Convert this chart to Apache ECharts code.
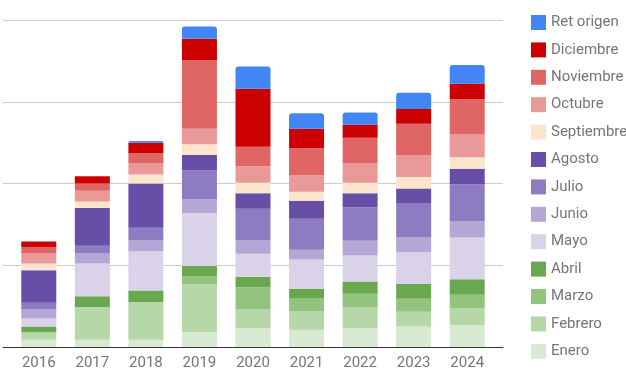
<!DOCTYPE html>
<html>
<head>
<meta charset="utf-8">
<script src="https://cdn.jsdelivr.net/npm/echarts@6/dist/echarts.min.js"></script>
<style>
  html, body { margin: 0; padding: 0; background: #fff; }
  #chart { width: 626px; height: 378px; }
</style>
</head>
<body>
<div id="chart"></div>
<script>
// años (eje x)
const years = ['2016', '2017', '2018', '2019', '2020', '2021', '2022', '2023', '2024']

// una serie por mes, de abajo hacia arriba
const enero      = [9, 9, 9, 18, 23, 21, 23, 25, 27]
const febrero    = [9, 40, 46, 59, 23, 23, 26, 18, 20]
const marzo      = [0, 0, 0, 10, 27, 16, 16, 16, 17]
const abril      = [7, 13, 14, 12, 13, 11, 15, 18, 19]
const mayo       = [10, 40, 48, 65, 28, 36, 32, 39, 51]
const junio      = [11, 13, 14, 17, 17, 12, 18, 18, 20]
const julio      = [8, 9, 15, 35, 38, 38, 41, 42, 45]
const agosto     = [40, 46, 54, 19, 19, 22, 17, 18, 19]
const septiembre = [8, 8, 11, 13, 13, 11, 13, 14, 14]
const octubre    = [13, 13, 14, 19, 20, 20, 24, 27, 28]
const noviembre  = [7, 9, 12, 84, 24, 33, 31, 38, 43]
const diciembre  = [7, 9, 13, 26, 71, 24, 16, 18, 19]
const retOrigen  = [0, 0, 2, 15, 27, 19, 15, 20, 23]

const yTicks = [0, 100, 200, 300, 400]

const seriesDefs = [
  ['Enero', enero, '#d9ead3'],
  ['Febrero', febrero, '#b6d7a8'],
  ['Marzo', marzo, '#93c47d'],
  ['Abril', abril, '#6aa84f'],
  ['Mayo', mayo, '#d9d2e9'],
  ['Junio', junio, '#b4a7d6'],
  ['Julio', julio, '#8e7cc3'],
  ['Agosto', agosto, '#674ea7'],
  ['Septiembre', septiembre, '#fce5cd'],
  ['Octubre', octubre, '#ea9999'],
  ['Noviembre', noviembre, '#e06666'],
  ['Diciembre', diciembre, '#cc0000'],
  ['Ret origen', retOrigen, '#4285f4'],
]

const myChart = echarts.init(document.getElementById('chart'))

const series = seriesDefs.map(function (d) {
  return {
    name: d[0],
    type: 'bar',
    stack: 'total',
    data: d[1],
    barWidth: 35,
    xAxisIndex: 0,
    yAxisIndex: 0,
    itemStyle: {
      color: d[2],
      borderRadius: d[0] === 'Ret origen' ? [3, 3, 0, 0] : 0,
    },
  }
})

const option = {
  animation: false,
  textStyle: { fontFamily: 'Roboto' },
  legend: {
    orient: 'vertical',
    left: 526,
    top: 10,
    itemWidth: 15,
    itemHeight: 15,
    itemGap: 12.4,
    icon: 'rect',
    data: seriesDefs.map(function (d) { return d[0] }).reverse(),
    textStyle: { color: '#757575', fontSize: 15, fontFamily: 'Roboto' },
  },
  grid: [
    { left: 12, right: 132, top: 20, bottom: 31 },
    // solo para las líneas de la cuadrícula, más anchas que las barras
    { left: 3, right: 123, top: 20, bottom: 31 },
  ],
  xAxis: [
    {
      type: 'category',
      gridIndex: 0,
      data: years,
      axisLine: { show: false },
      axisTick: { show: false },
      axisLabel: { color: '#757575', fontSize: 15, margin: 9, fontFamily: 'Roboto' },
    },
    {
      type: 'value',
      gridIndex: 1,
      min: 0,
      max: 1,
      axisLabel: { show: false },
      axisTick: { show: false },
      splitLine: { show: false },
      axisLine: { show: true, lineStyle: { color: '#333', width: 1 } },
    },
  ],
  yAxis: [
    {
      type: 'value',
      gridIndex: 0,
      min: yTicks[0],
      max: yTicks[yTicks.length - 1],
      interval: 100,
      show: false,
      splitLine: { show: false },
    },
    {
      type: 'value',
      gridIndex: 1,
      min: yTicks[0],
      max: yTicks[yTicks.length - 1],
      interval: 100,
      axisLine: { show: false },
      axisTick: { show: false },
      axisLabel: { show: false },
      splitLine: { show: true, lineStyle: { color: '#cccccc', width: 1 } },
    },
  ],
  series: series,
}

myChart.setOption(option, true)
</script>
</body>
</html>
